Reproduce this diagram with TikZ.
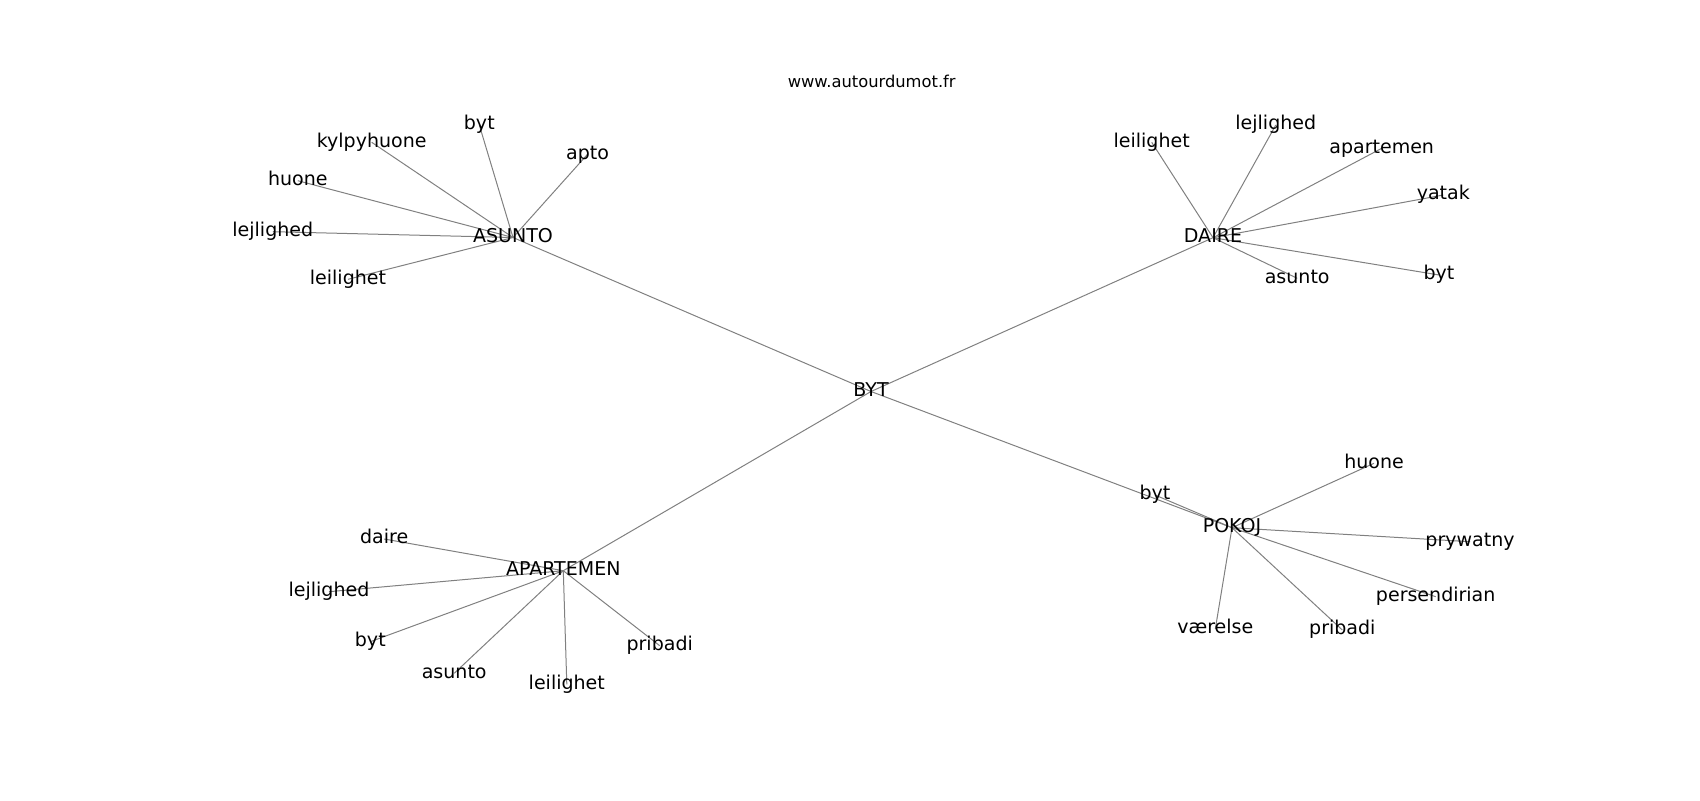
\documentclass[tikz,border=0pt]{standalone}
\usepackage{fontspec}
\setmainfont{DejaVu Sans}
\usetikzlibrary{backgrounds}

\tikzset{
  word/.style={inner sep=0pt, text height=10.4pt, text depth=3.3pt,
    font=\fontsize{13.7}{16}\selectfont},
  site/.style={inner sep=0pt, text height=8.9pt, text depth=2.8pt,
    font=\fontsize{11.75}{14}\selectfont},
  link/.style={draw=black!50, line width=0.72pt}
}

\begin{document}
\begin{tikzpicture}[x=0.72pt, y=-0.72pt]
        \path[use as bounding box] (0, 0) rectangle (1700, 800);
        \node[site] (title) at (871.7, 83.5) {www.autourdumot.fr};
        % centre and the four hubs
        \node[word] (byt) at (871, 391.5) {BYT};
        \node[word] (asunto) at (513, 237.5) {ASUNTO};
        \node[word] (daire) at (1213, 237.7) {DAIRE};
        \node[word] (apartemen) at (563.3, 570.7) {APARTEMEN};
        \node[word] (pokoj) at (1232, 527.7) {POKOJ};
        \foreach \hub in {asunto, daire, apartemen, pokoj} {
                \begin{scope}[on background layer]
                        \draw[link] (byt.center) -- (\hub.center);
                \end{scope}
        }
        % leaves of each hub
        \foreach \hub/\n/\txt/\x/\y in {
                asunto/1/kylpyhuone/371.7/142.3, asunto/2/byt/479.3/125,
                asunto/3/apto/587.5/154.3, asunto/4/huone/297.8/180.7,
                asunto/5/lejlighed/272.8/231.7, asunto/6/leilighet/348/279.3,
                daire/1/leilighet/1151.7/142.3, daire/2/lejlighed/1275.8/125,
                daire/3/apartemen/1381.7/148.3, daire/4/yatak/1443.3/195,
                daire/5/byt/1439/275, daire/6/asunto/1297.2/278.3,
                apartemen/1/daire/384.2/539, apartemen/2/lejlighed/329/591.7,
                apartemen/3/byt/370.3/641.7, apartemen/4/asunto/454.2/673.3,
                apartemen/5/leilighet/566.8/684.3, apartemen/6/pribadi/659.7/645.7,
                pokoj/1/byt/1155/495, pokoj/2/huone/1374/463.3,
                pokoj/3/prywatny/1470/541.7, pokoj/4/persendirian/1435.7/596.7,
                pokoj/5/pribadi/1342.3/630, pokoj/6/værelse/1215.3/629} {
                \node[word] (\hub-\n) at (\x, \y) {\txt};
                \begin{scope}[on background layer]
                        \draw[link] (\hub.center) -- (\hub-\n.center);
                \end{scope}
        }
\end{tikzpicture}
\end{document}
